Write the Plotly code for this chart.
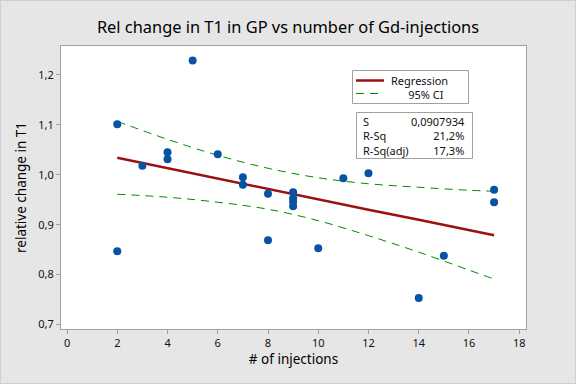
import plotly.graph_objects as go

# --- data ---
injections = [2, 2, 3, 4, 4, 5, 6, 7, 7, 8, 8, 9, 9, 9, 9, 10, 11, 12, 14, 15, 17, 17]
rel_change = [1.101, 0.847, 1.018, 1.045, 1.031, 1.229, 1.041, 0.995, 0.980, 0.962, 0.869,
              0.965, 0.953, 0.946, 0.937, 0.853, 0.993, 1.003, 0.753, 0.838, 0.970, 0.945]

fit_x = [2, 4, 6, 8, 10, 12, 14, 16, 17]
fit_y = [1.034, 1.013, 0.992, 0.972, 0.951, 0.930, 0.910, 0.889, 0.879]
ci_upper = [1.107, 1.071, 1.039, 1.013, 0.994, 0.982, 0.975, 0.969, 0.967]
ci_lower = [0.961, 0.955, 0.945, 0.931, 0.908, 0.878, 0.845, 0.809, 0.791]

x_ticks = [0, 2, 4, 6, 8, 10, 12, 14, 16, 18]
y_ticks = [0.7, 0.8, 0.9, 1.0, 1.1, 1.2]

legend_labels = ["Regression", "95% CI"]
stat_names = ["S", "R-Sq", "R-Sq(adj)"]
stat_values = ["0,0907934", "21,2%", "17,3%"]

FONT = "Noto Sans"
GREY = "#a0a0a0"
RED = "#9b1111"
GREEN = "#008a00"

fig = go.Figure()
fig.add_trace(go.Scatter(x=fit_x, y=fit_y, mode="lines", name=legend_labels[0],
                         line=dict(color=RED, width=2.5)))
fig.add_trace(go.Scatter(x=fit_x, y=ci_upper, mode="lines", name=legend_labels[1],
                         line=dict(color=GREEN, width=1, dash="8px,6px", shape="spline")))
fig.add_trace(go.Scatter(x=fit_x, y=ci_lower, mode="lines", name=legend_labels[1],
                         line=dict(color=GREEN, width=1, dash="8px,6px", shape="spline")))
fig.add_trace(go.Scatter(x=injections, y=rel_change, mode="markers", name="data",
                         marker=dict(color="#0753a3", size=8, line=dict(width=0))))

W, H = 576, 384
ml, mr, mt, mb = 61, 50, 46, 55
pw, ph = W - ml - mr, H - mt - mb


def px(xp):
    return (xp - ml) / pw


def py(yp):
    return (H - mb - yp) / ph


shapes = [
    # outer figure border
    dict(type="rect", xref="paper", yref="paper", x0=px(0.5), x1=px(W - 0.5),
         y0=py(H - 0.5), y1=py(0.5), line=dict(color="#cfcfcf", width=1)),
    # legend box
    dict(type="rect", xref="paper", yref="paper", x0=px(352.5), x1=px(468.5),
         y0=py(103.5), y1=py(70.5), line=dict(color=GREY, width=1), fillcolor="white",
         layer="above"),
    dict(type="line", xref="paper", yref="paper", x0=px(356), x1=px(384),
         y0=py(80.5), y1=py(80.5), line=dict(color=RED, width=2.5), layer="above"),
    dict(type="line", xref="paper", yref="paper", x0=px(356), x1=px(383),
         y0=py(93.5), y1=py(93.5), line=dict(color=GREEN, width=1, dash="8px,6px"),
         layer="above"),
    # stats box
    dict(type="rect", xref="paper", yref="paper", x0=px(356.5), x1=px(472.5),
         y0=py(158.5), y1=py(112.5), line=dict(color=GREY, width=1), fillcolor="white",
         layer="above"),
]

NB = "\u00a0"
annotations = [
    dict(xref="paper", yref="paper", x=px(390), y=py(87), xanchor="left",
         yanchor="middle", align="left", showarrow=False, borderpad=0,
         text=legend_labels[0] + "<br>" + NB * 6 + legend_labels[1],
         font=dict(size=11)),
    dict(xref="paper", yref="paper", x=px(361), y=py(136), xanchor="left",
         yanchor="middle", align="left", showarrow=False,
         text="<br>".join(stat_names), font=dict(size=11)),
    dict(xref="paper", yref="paper", x=px(467), y=py(136), xanchor="right",
         yanchor="middle", align="right", showarrow=False,
         text="<br>".join(stat_values), font=dict(size=11)),
]

fig.update_layout(
    width=W, height=H,
    margin=dict(l=ml, r=mr, t=mt, b=mb),
    paper_bgcolor="#e6e6e6", plot_bgcolor="white",
    separators=",.",
    showlegend=False,
    font=dict(family=FONT, color="#111111", size=11),
    title=dict(text="Rel change in T1 in GP vs number of Gd-injections",
               x=0.5, xanchor="center", y=1 - 27 / H, yanchor="middle",
               font=dict(size=16.4, family=FONT, color="#000000")),
    xaxis=dict(range=[-0.24, 18.27], tickvals=x_ticks, ticks="outside", ticklen=4,
               tickcolor=GREY, showline=True, linecolor=GREY, mirror=True,
               showgrid=False, zeroline=False, tickfont=dict(size=11),
               title=dict(text="# of injections", font=dict(size=13.5, color="#000"),
                          standoff=4)),
    yaxis=dict(range=[0.691, 1.258], tickvals=y_ticks, tickformat=".1f", ticks="outside",
               ticklen=4, tickcolor=GREY, showline=True, linecolor=GREY, mirror=True,
               showgrid=False, zeroline=False, tickfont=dict(size=11),
               title=dict(text="relative change in T1", font=dict(size=13.5, color="#000"),
                          standoff=8)),
    shapes=shapes,
    annotations=annotations,
)

fig.write_html("out.html", config={"displayModeBar": False},
               post_script="document.body.style.margin='0';document.body.style.padding='0';")
